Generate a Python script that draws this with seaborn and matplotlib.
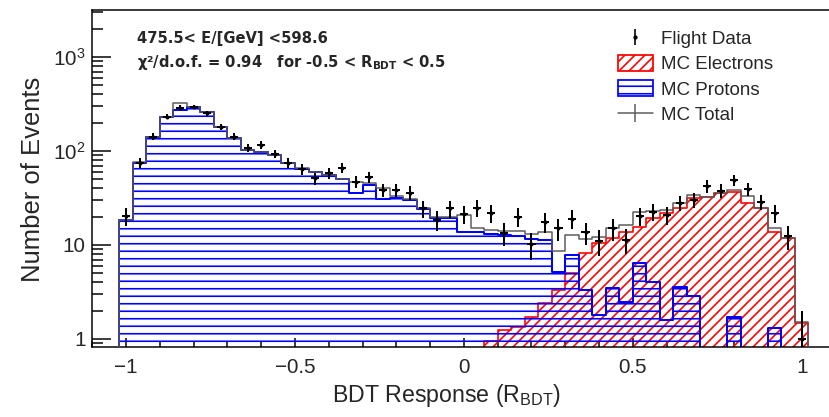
import numpy as np
import pandas as pd
import matplotlib
matplotlib.use("Agg")
import matplotlib.pyplot as plt
import seaborn as sns
from matplotlib.ticker import FixedLocator, FixedFormatter, MultipleLocator, LogLocator, NullFormatter
from matplotlib.patches import Patch
from matplotlib.lines import Line2D
from matplotlib.legend_handler import HandlerTuple

# ---------------- data ----------------
bin_centers = [-1.00, -0.96, -0.92, -0.88, -0.84, -0.80, -0.76, -0.72, -0.68, -0.64,
               -0.60, -0.56, -0.52, -0.48, -0.44, -0.40, -0.36, -0.32, -0.28, -0.24,
               -0.20, -0.16, -0.12, -0.08, -0.04, 0.00, 0.04, 0.08, 0.12, 0.16,
               0.20, 0.24, 0.28, 0.32, 0.36, 0.40, 0.44, 0.48, 0.52, 0.56,
               0.60, 0.64, 0.68, 0.72, 0.76, 0.80, 0.84, 0.88, 0.92, 0.96, 1.00]
bin_width = 0.04

mc_protons = [18.5, 74, 140, 230, 275, 295, 262, 180, 136, 103,
              98, 91, 74, 64, 60, 56, 50, 36, 43, 31,
              32, 30, 24, 19.5, 19.3, 13.9, 13.6, 13.2, 12.8, 12.6,
              11.5, 11.3, 5.2, 7.8, 3.3, 1.8, 3.5, 2.5, 6.5, 4.0,
              1.6, 3.6, 2.9, 0, 0, 1.7, 0, 0, 1.3, 0, 0]

mc_electrons = [0, 0, 0, 0, 0, 0, 0, 0, 0, 0,
                0, 0, 0, 0, 0, 0, 0, 0, 0, 0,
                0, 0, 0, 0, 0, 0, 0, 0.95, 1.25, 1.35,
                1.73, 2.4, 3.3, 5.0, 8.2, 10.4, 11.8, 13.8, 15.7, 19.2,
                21.7, 24.5, 31.3, 32.6, 35.5, 36.9, 27.8, 24.5, 13.8, 11.8, 1.47]

mc_total = [18.5, 76, 142, 232, 321, 296, 262, 181, 136, 103,
            98, 91, 74, 66, 60, 56, 50, 47, 46, 40,
            33, 31, 25, 20, 20, 20.8, 15, 14.4, 14, 14,
            13.2, 13.6, 8.6, 12.8, 11.5, 12.2, 15.3, 16.3, 22.2, 23.2,
            23.3, 28.1, 34.2, 32.6, 35.5, 38.6, 33, 24.5, 15.1, 11.8, 1.5]

flight_data = [20.5, 75, 142, 232, 288, 294, 252, 181, 142, 107,
               116, 93, 75, 64, 51, 58, 66, 47, 53, 38.5,
               38.5, 36, 24.5, 18.5, 24.5, 21.5, 24.8, 21.7, 13.5, 20,
               10.2, 17.5, 15, 19, 13.6, 11, 15, 11.3, 20.5, 22.6,
               20.8, 28.2, 30.1, 42.5, 37.9, 49.1, 39.1, 28.9, 22, 12.4, 1.0]

legend_labels = ["Flight Data", "MC Electrons", "MC Protons", "MC Total"]
x_tick_values = [-1, -0.5, 0, 0.5, 1]
x_tick_labels = ["\u22121", "\u22120.5", "0", "0.5", "1"]
y_tick_values = [1, 10, 100, 1000]
y_tick_labels = ["1", "10", r"$\mathdefault{10^{2}}$", r"$\mathdefault{10^{3}}$"]

# ---------------- style ----------------
sns.set_style("ticks")
plt.rcParams["font.family"] = ["Liberation Sans", "DejaVu Sans"]
plt.rcParams["mathtext.fontset"] = "custom"
plt.rcParams["mathtext.rm"] = "Liberation Sans"
plt.rcParams["hatch.linewidth"] = 1.3

DPI = 90
W, H = 830, 417
fig = plt.figure(figsize=(W / DPI, H / DPI), dpi=DPI)
ax_left, ax_right, ax_top, ax_bottom = 92.3, 835.5, 10.0, 347.0
ax = fig.add_axes([ax_left / W, 1 - ax_bottom / H, (ax_right - ax_left) / W, (ax_bottom - ax_top) / H])
ax.set_yscale("log")

centers = np.array(bin_centers)
edges = list(np.append(centers - bin_width / 2, centers[-1] + bin_width / 2))
df = pd.DataFrame({"center": bin_centers, "protons": mc_protons,
                   "electrons": mc_electrons, "total": mc_total})

common = dict(data=df, x="center", bins=edges, element="step", fill=True,
              facecolor="none", ax=ax)
sns.histplot(weights="electrons", color="#ff0000", edgecolor="#ff0000", hatch="///",
             linewidth=1.3, zorder=1, **common)
sns.histplot(weights="protons", color="#0000ff", edgecolor="#0000ff", hatch="--",
             linewidth=1.6, zorder=2, **common)
sns.histplot(weights="total", color="#5a5a5a", edgecolor="#5a5a5a",
             linewidth=1.2, zorder=3, **common)

fd = np.array(flight_data)
ax.errorbar(centers, fd, yerr=np.sqrt(fd), xerr=0.012, fmt="o", ms=2.2,
            color="black", elinewidth=1.6, capsize=0, zorder=5)

ax.set_xlim(-1.1, 1.1)
ax.set_ylim(0.822, 3160)

ax.xaxis.set_major_locator(FixedLocator(x_tick_values))
ax.xaxis.set_major_formatter(FixedFormatter(x_tick_labels))
ax.xaxis.set_minor_locator(MultipleLocator(0.1))
ax.yaxis.set_major_locator(FixedLocator(y_tick_values))
ax.yaxis.set_major_formatter(FixedFormatter(y_tick_labels))
ax.yaxis.set_minor_locator(LogLocator(base=10, subs=np.arange(2, 10)))
ax.yaxis.set_minor_formatter(NullFormatter())

ax.tick_params(axis="both", which="both", direction="in", top=False, right=False, color="black")
ax.tick_params(axis="x", which="major", length=7.2, width=1.2, pad=8.5, labelsize=16.5)
ax.tick_params(axis="x", which="minor", length=4.4, width=1.2)
ax.tick_params(axis="y", which="major", length=15, width=1.2, pad=5.5, labelsize=16.5)
ax.tick_params(axis="y", which="minor", length=8.8, width=1.2)
for s in ax.spines.values():
    s.set_linewidth(1.2)
    s.set_color("black")

ax.set_xlabel(r"BDT Response (R$_{\mathdefault{BDT}}$)", fontsize=18.5)
ax.xaxis.set_label_coords(0.477, -0.105)
ax.set_ylabel("Number of Events", fontsize=20.5)
ax.yaxis.set_label_coords(-0.063, 0.496)

fig.text(137 / W, 1 - 43 / H, "475.5< E/[GeV] <598.6", fontsize=11.8,
         fontweight="bold", family="DejaVu Sans", va="baseline")
fig.text(137 / W, 1 - 67 / H,
         "\u03c7\u00b2/d.o.f. = 0.94   for -0.5 < R$_{\\mathdefault{BDT}}$ < 0.5",
         fontsize=11.8, fontweight="bold", family="DejaVu Sans", va="baseline")

handles = [
    (Line2D([], [], color="black", marker="|", ms=13, mew=1.3, ls="none"),
     Line2D([], [], color="black", marker="o", ms=2.4, ls="none")),
    Patch(facecolor="none", edgecolor="#ff0000", hatch="///", lw=1.4),
    Patch(facecolor="none", edgecolor="#0000ff", hatch="--", lw=1.4),
    Line2D([], [], color="#5a5a5a", lw=1.2, marker="|", ms=14, mew=1.2),
]
ax.legend(handles, legend_labels, loc="upper left",
          bbox_to_anchor=(618 / W, 1 - 30 / H), bbox_transform=fig.transFigure,
          frameon=False, fontsize=15, handlelength=1.85, handleheight=0.9,
          handletextpad=0.45, labelspacing=0.37, borderpad=0, borderaxespad=0,
          handler_map={tuple: HandlerTuple(ndivide=1)})

fig.savefig("out.png", dpi=DPI)
